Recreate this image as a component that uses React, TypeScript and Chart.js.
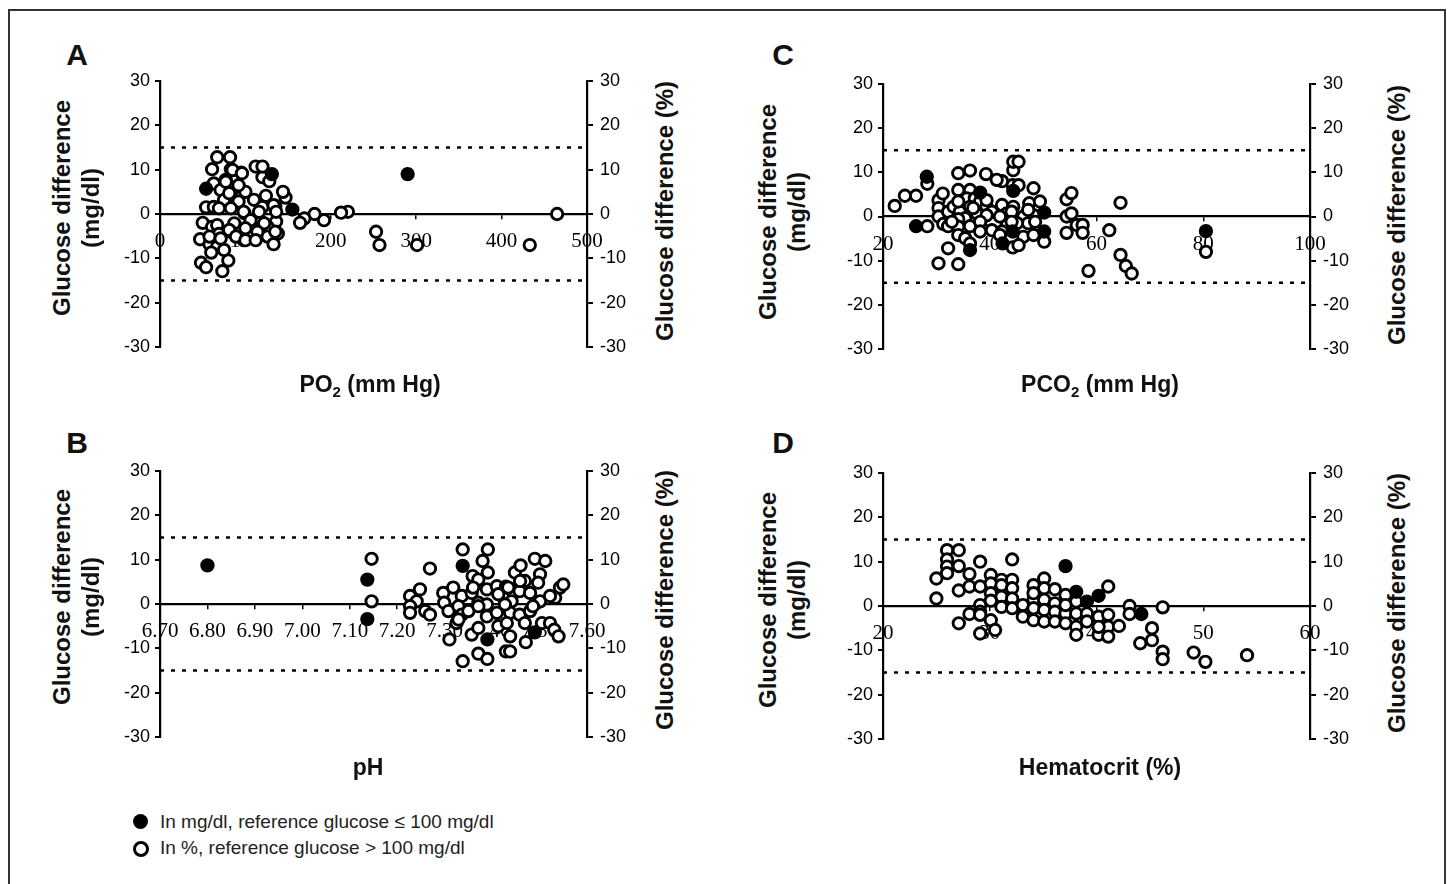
import React, { useEffect, useRef } from 'react';
import { Chart, registerables } from 'chart.js';

Chart.register(...registerables);

type Pt = [number, number];

// ---------- Panel A: PO2 ----------
const po2Ticks = [0, 100, 200, 300, 400, 500];
const po2TickLabels = ['0', '100', '200', '300', '400', '500'];
const po2Filled: Pt[] = [[290, 9], [155, 1], [131, 9], [54, 5.7]];
const po2Open: Pt[] = [
  [465, 0], [433, -7], [301, -7], [257, -7], [253, -4], [220, 0.5], [212, 0.3], [192, -1.4], [181, 0], [169, -1],
  [164, -2], [147, 3.7], [144, 5], [120, 8.3], [128, 7.4], [112, 10.7], [120, 10.7], [95, 9.3], [67, 12.8], [82, 12.8],
  [61, 10.1], [83, 10.1], [77, 7.7], [63, 6.9], [92, 6.2], [100, 5], [71, 5.4], [83, 4.3], [54, 1.5], [63, 1.6],
  [75, 3.2], [92, 2.8], [110, 3.2], [124, 4.1], [135, 1.8], [99, 0.2], [83, 1.3], [120, 1.6], [50, -2], [61, -2.9],
  [67, -2.5], [87, -2.1], [106, -2.5], [118, -1.7], [136, -1.7], [126, -2.9], [138, -4.4], [126, -5.1], [106, -4.4], [83, -4],
  [69, -4.5], [47, -5.7], [58, -6.8], [67, -7.4], [75, -8.1], [60, -8.7], [133, -6.8], [98, -5.9], [48, -11], [54, -12],
  [80, -10.5], [73, -12.9], [85, 9.9], [96, 9.2], [77, 7.3], [92, 6.5], [81, 4.7], [133, 2], [69, 1.3], [98, 0.5],
  [116, 0.5], [136, 0.5], [106, -1.4], [122, -2.1], [81, -3.6], [100, -3.2], [114, -4], [135, -4], [58, -5.1], [71, -5.5],
  [89, -5.1], [100, -5.9], [112, -5.9],
];

// ---------- Panel B: pH ----------
const phTicks = [6.7, 6.8, 6.9, 7.0, 7.1, 7.2, 7.3, 7.4, 7.5, 7.6];
const phTickLabels = ['6.70', '6.80', '6.90', '7.00', '7.10', '7.20', '7.30', '7.40', '7.50', '7.60'];
const phFilled: Pt[] = [[6.8, 8.7], [7.137, 5.5], [7.137, -3.4], [7.338, 8.6], [7.39, -8.0], [7.49, -6.4]];
const phOpen: Pt[] = [
  [7.146, 10.2], [7.146, 0.6], [7.248, 3.3], [7.227, 1.8], [7.241, 0.6], [7.227, -0.5], [7.227, -2.0], [7.259, -1.6], [7.269, -2.4], [7.269, 8.0],
  [7.297, 2.5], [7.299, 0.3], [7.308, -1.6], [7.31, -8.0], [7.318, 3.7], [7.338, 12.3], [7.338, -12.9], [7.371, -11.2], [7.39, -12.4], [7.391, 12.3],
  [7.38, 9.7], [7.359, 6.3], [7.371, 5.5], [7.391, 7.1], [7.336, 1.8], [7.329, -0.5], [7.336, -2.4], [7.325, -4.3], [7.357, -6.9], [7.357, 2.5],
  [7.35, -1.6], [7.371, 0.3], [7.389, 3.3], [7.389, -0.1], [7.389, -2.8], [7.371, -5.4], [7.41, 4.0], [7.41, -2.0], [7.413, -5.0], [7.429, 3.9],
  [7.429, -10.7], [7.438, -10.7], [7.438, -7.3], [7.424, 1.4], [7.441, 0.6], [7.438, -2.0], [7.431, -4.3], [7.448, 7.1], [7.46, 8.7], [7.458, 2.9],
  [7.469, 5.2], [7.458, -2.4], [7.48, -1.6], [7.469, -4.3], [7.471, -8.6], [7.49, 10.2], [7.512, 9.7], [7.501, 6.7], [7.497, 4.8], [7.48, 2.5],
  [7.501, 0.6], [7.505, -4.3], [7.522, -4.3], [7.531, -5.8], [7.54, -7.3], [7.533, 1.4], [7.543, 3.7], [7.55, 4.4], [7.522, 1.8], [7.36, 3.7],
  [7.371, -0.5], [7.413, 2.2], [7.434, 3.7], [7.427, -0.1], [7.459, 5.2], [7.329, -3.5], [7.486, -0.5],
];

// ---------- Panel C: PCO2 ----------
const pco2Ticks = [20, 40, 60, 80, 100];
const pco2TickLabels = ['20', '40', '60', '80', '100'];
const pco2Filled: Pt[] = [
  [28.2, 9], [26.2, -2.2], [38.2, 5.4], [36.3, -7.6], [44.4, 5.8], [50.2, 0.9], [44.3, -3.4], [50.2, -3.4], [42.4, -6.1], [80.5, -3.3],
];
const pco2Open: Pt[] = [
  [22.2, 2.4], [24.1, 4.7], [26.2, 4.7], [28.3, 7.4], [28.3, -2.2], [30.4, 3.7], [31.2, 5.2], [30.4, 1.9], [30.4, 0], [31.3, -1.7],
  [32.2, -2.2], [32.2, 1.1], [32.2, -7.2], [30.4, -10.6], [34.1, -10.8], [34.1, 9.8], [36.3, 10.4], [39.3, 9.6], [34.1, 6], [36.3, 6],
  [35.7, 4.1], [37.2, 4.1], [33.2, 2.2], [34.4, 1.1], [36.3, 2.2], [38.2, 3.4], [39.4, 2.2], [40.4, 1.1], [39.1, 0.1], [37.6, 0.7],
  [35.4, -0.4], [34.1, -0.6], [34.1, -2.3], [36.3, -2.2], [38.5, -2.7], [40.4, -3.1], [34.1, -4.2], [35.4, -4.9], [36.3, -6.1], [42.3, 8],
  [44.3, 7.1], [45.4, 7.1], [44.4, 10.5], [44.4, 12.4], [45.4, 12.4], [48.2, 6.4], [47.4, 3], [49.4, 3.4], [42.3, 2.6], [44.4, 2.2],
  [43.2, 0.7], [46.3, 0], [48.2, 0.3], [47.2, -1.5], [45.1, -1.5], [43.2, -1.9], [42.3, -3.4], [46.3, -4.6], [48.2, -4.2], [50.2, -5.7],
  [44.3, -7], [45.4, -6.5], [54.4, 3.9], [55.3, 5.3], [54.4, 0], [55.3, 0.7], [54.4, -3.7], [56.3, -1.9], [57.4, -1.9], [57.4, -3.7],
  [62.4, -3.1], [58.5, -12.3], [64.5, 3.1], [64.5, -8.7], [65.5, -11.2], [66.6, -12.9], [80.5, -8], [34.1, 3.4], [36.9, 1.9], [39.4, 3.7],
  [39.4, 0.3], [38.2, -1.2], [32.9, -1.2], [38.2, -3.4], [41.9, 0], [44.1, 1.1], [44.1, -1.2], [41.9, -4.2], [47.2, 1.5], [48.5, -1.2],
  [41.3, 8.3],
];

// ---------- Panel D: Hematocrit ----------
const hctTicks = [20, 30, 40, 50, 60];
const hctTickLabels = ['20', '30', '40', '50', '60'];
const hctFilled: Pt[] = [[37.1, 9], [38.1, 3.2], [39.1, 1], [40.2, 2.3], [44.2, -1.8]];
const hctOpen: Pt[] = [
  [25, 6.2], [25, 1.7], [26, 12.6], [26, 10.5], [26, 8.9], [26, 7.4], [27.1, 12.6], [27.1, 9], [27.1, 3.5], [27.1, -3.9],
  [28.1, 7.2], [28.1, 4.4], [28.1, -1.8], [29.1, 10], [29.1, 4.4], [29.1, 0.2], [29.1, -1.3], [29.1, -6.2], [30.1, 7], [30.1, 5.1],
  [30.1, 2.9], [30.1, -3.2], [31.1, 5.9], [31.1, 4.7], [31.1, 2.1], [31.1, -0.2], [32.1, 10.5], [32.1, 5.9], [32.1, 4], [32.1, 1.7],
  [32.1, -0.5], [33.1, 0.2], [33.1, -2.4], [34.1, 4.7], [34.1, 1.4], [34.1, -0.5], [34.1, -3.2], [35.1, 6.2], [35.1, 4], [35.1, 1.4],
  [35.1, -0.9], [35.1, -3.5], [36.1, 3.8], [36.1, 0.6], [36.1, -1.3], [36.1, -3.5], [37.1, 2.5], [37.1, -1.7], [37.1, -3.9], [38.1, 1],
  [38.1, -1.7], [38.1, -4.7], [38.1, -6.5], [39.1, -1.7], [39.1, -3.5], [40.2, -2.4], [40.2, -6.5], [41.1, 4.4], [41.1, -2], [41.1, -4.7],
  [41.1, -6.9], [42.1, -4.5], [43.1, 0], [43.1, -1.8], [44.1, -8.4], [45.2, -5], [45.2, -7.7], [46.2, -0.3], [46.2, -10.3], [46.2, -12],
  [49.1, -10.5], [50.2, -12.6], [54.1, -11.1], [29.1, -2], [30.5, -5.4], [30.1, 1.2], [34.1, 2.9], [37.1, 0.2], [40.2, -4.7],
];

// ---------- shared ----------
const yTicks = [-30, -20, -10, 0, 10, 20, 30];
const limitLines = [15, -15];

interface PanelProps {
  left: number; top: number; width: number; height: number;
  padTop: number; padBottom: number;
  xMin: number; xMax: number; xTicks: number[]; xLabels: string[];
  filled: Pt[]; open: Pt[];
}

function Panel(p: PanelProps) {
  const ref = useRef<HTMLCanvasElement>(null);
  useEffect(() => {
    const toXY = (a: Pt[]) => a.map(([x, y]) => ({ x, y }));
    const pointBase = { showLine: false, pointRadius: 5.7, pointBorderWidth: 2.9, pointHoverRadius: 5.7 };
    const limits = limitLines.map((v) => ({
      type: 'line' as const,
      data: [{ x: p.xMin, y: v }, { x: p.xMax, y: v }],
      borderColor: '#000', borderWidth: 2.6, borderDash: [4, 7], pointRadius: 0, fill: false,
    }));
    const yAxisBase = (pos: 'left' | 'right', w: number, tl: number, pad: number) => ({
      type: 'linear' as const, position: pos, min: -30, max: 30,
      afterBuildTicks: (s: any) => { s.ticks = yTicks.map((v) => ({ value: v })); },
      afterFit: (s: any) => { s.width = w; },
      ticks: { color: '#000', padding: pad, font: { family: 'Liberation Sans, Arial, sans-serif', size: 18 } },
      grid: { drawOnChartArea: false, drawTicks: true, tickLength: tl, color: '#000', lineWidth: 2 },
      border: { color: '#000', width: 2.2 },
    });
    const chart = new Chart(ref.current!, {
      type: 'scatter',
      data: {
        datasets: [
          { ...pointBase, data: toXY(p.filled), backgroundColor: '#000', borderColor: '#000', pointBackgroundColor: '#000', pointBorderColor: '#000' },
          { ...pointBase, data: toXY(p.open), backgroundColor: '#fff', borderColor: '#000', pointBackgroundColor: '#fff', pointBorderColor: '#000' },
          ...limits,
        ] as any,
      },
      options: {
        animation: false,
        responsive: false,
        events: [],
        layout: { padding: { left: 0, right: 0, top: p.padTop, bottom: p.padBottom } },
        plugins: { legend: { display: false }, tooltip: { enabled: false } },
        scales: {
          x: {
            type: 'linear', position: { y: 0 } as any, min: p.xMin, max: p.xMax,
            afterBuildTicks: (s: any) => { s.ticks = p.xTicks.map((v) => ({ value: v })); },
            ticks: {
              color: '#000', padding: 11, autoSkip: false, maxRotation: 0,
              font: { family: 'Liberation Serif, Times New Roman, serif', size: 21 },
              callback: (_v: any, i: number) => p.xLabels[i],
            },
            grid: { drawOnChartArea: false, drawTicks: true, tickLength: 4, color: '#000', lineWidth: 1.5 },
            border: { color: '#000', width: 2.2 },
          },
          y: yAxisBase('left', 60, 5, 5) as any,
          y2: yAxisBase('right', 53, 6, 7) as any,
        },
      },
    });
    return () => chart.destroy();
  }, []);
  return (
    <canvas
      ref={ref}
      width={p.width}
      height={p.height}
      style={{ position: 'absolute', left: p.left, top: p.top, width: p.width, height: p.height }}
    />
  );
}

const SANS = 'Liberation Sans, Arial, Helvetica, sans-serif';

function Txt(props: { x: number; y: number; rot?: number; size: number; bold?: boolean; children: React.ReactNode }) {
  return (
    <div
      style={{
        position: 'absolute', left: props.x, top: props.y,
        transform: `translate(-50%, -50%) rotate(${props.rot || 0}deg)`,
        whiteSpace: 'nowrap', fontSize: props.size, fontWeight: props.bold ? 700 : 400,
        fontFamily: SANS, lineHeight: 1, color: '#111',
      }}
    >
      {props.children}
    </div>
  );
}

const leftTitle1 = 'Glucose difference';
const leftTitle2 = '(mg/dl)';
const rightTitle = 'Glucose difference (%)';

function YTitles({ lx, rx, cy }: { lx: number; rx: number; cy: number }) {
  return (
    <>
      <Txt x={lx} y={cy} rot={-90} size={24} bold>{leftTitle1}</Txt>
      <Txt x={lx + 29} y={cy} rot={-90} size={24} bold>{leftTitle2}</Txt>
      <Txt x={rx} y={cy + 3} rot={-90} size={24} bold>{rightTitle}</Txt>
    </>
  );
}

export default function App() {
  return (
    <div style={{ position: 'absolute', left: 0, top: 0, width: 1448, height: 884, background: '#fff', overflow: 'hidden' }}>
      <div style={{ position: 'absolute', left: 8, top: 9, width: 1434, height: 880, borderTop: '2px solid #333', borderLeft: '2px solid #333', borderRight: '2px solid #333' }} />

      <Panel left={100} top={60} width={540} height={320} padTop={21} padBottom={33}
        xMin={0} xMax={500} xTicks={po2Ticks} xLabels={po2TickLabels} filled={po2Filled} open={po2Open} />
      <Panel left={823} top={63} width={540} height={320} padTop={21} padBottom={34}
        xMin={20} xMax={100} xTicks={pco2Ticks} xLabels={pco2TickLabels} filled={pco2Filled} open={pco2Open} />
      <Panel left={100} top={450} width={540} height={320} padTop={21} padBottom={33}
        xMin={6.7} xMax={7.6} xTicks={phTicks} xLabels={phTickLabels} filled={phFilled} open={phOpen} />
      <Panel left={823} top={452} width={540} height={320} padTop={21} padBottom={33}
        xMin={20} xMax={60} xTicks={hctTicks} xLabels={hctTickLabels} filled={hctFilled} open={hctOpen} />

      <Txt x={77} y={55} size={30} bold>A</Txt>
      <Txt x={783} y={55} size={30} bold>C</Txt>
      <Txt x={77} y={443} size={30} bold>B</Txt>
      <Txt x={783} y={443} size={30} bold>D</Txt>

      <YTitles lx={62} rx={665} cy={208} />
      <YTitles lx={768} rx={1397} cy={212} />
      <YTitles lx={62} rx={665} cy={597} />
      <YTitles lx={768} rx={1397} cy={600} />

      <Txt x={370} y={386} size={23} bold>PO<sub style={{ fontSize: 15 }}>2</sub> (mm Hg)</Txt>
      <Txt x={1100} y={386} size={23} bold>PCO<sub style={{ fontSize: 15 }}>2</sub> (mm Hg)</Txt>
      <Txt x={368} y={767} size={23} bold>pH</Txt>
      <Txt x={1100} y={767} size={23} bold>Hematocrit (%)</Txt>

      <div style={{ position: 'absolute', left: 133, top: 814, width: 15, height: 15, borderRadius: '50%', background: '#000' }} />
      <div style={{ position: 'absolute', left: 160, top: 812, fontFamily: SANS, fontSize: 19, lineHeight: '20px', color: '#222', whiteSpace: 'nowrap' }}>
        In mg/dl, reference glucose ≤ 100 mg/dl
      </div>
      <div style={{ position: 'absolute', left: 133, top: 841, width: 10, height: 10, borderRadius: '50%', border: '3px solid #000', background: '#fff' }} />
      <div style={{ position: 'absolute', left: 160, top: 838, fontFamily: SANS, fontSize: 19, lineHeight: '20px', color: '#222', whiteSpace: 'nowrap' }}>
        In %, reference glucose &gt; 100 mg/dl
      </div>
    </div>
  );
}
